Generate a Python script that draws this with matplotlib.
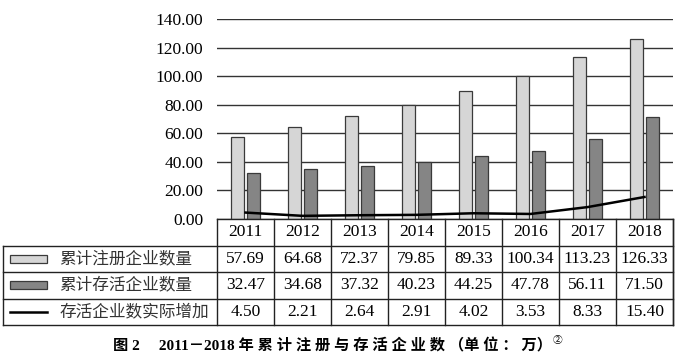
import numpy as np
import matplotlib.pyplot as plt

years = ['2011', '2012', '2013', '2014', '2015', '2016', '2017', '2018']
registered = [57.69, 64.68, 72.37, 79.85, 89.33, 100.34, 113.23, 126.33]
surviving = [32.47, 34.68, 37.32, 40.23, 44.25, 47.78, 56.11, 71.50]
increase = [4.50, 2.21, 2.64, 2.91, 4.02, 3.53, 8.33, 15.40]
series_names = ['累计注册企业数量', '累计存活企业数量', '存活企业数实际增加']
yticks = [0, 20, 40, 60, 80, 100, 120, 140]
caption = '图 2\u3000 2011－2018 年 ' + ' '.join('累计注册与存活企业数') + ' （单 位 ： 万）'

W, H = 677, 362
fig = plt.figure(figsize=(W / 100, H / 100), dpi=100)

serif = ['Liberation Serif', 'Noto Sans CJK SC']
cjk = ['Noto Sans CJK SC', 'Liberation Serif']

light = '#d6d6d6'
dark = '#858585'
edge = '#3a3a3a'

# plot area in pixels
x0, x1 = 217, 673
y_top, y_bot = 19, 219
ax = fig.add_axes([x0 / W, 1 - y_bot / H, (x1 - x0) / W, (y_bot - y_top) / H])

x = np.arange(len(years))
bw = 0.23
ax.bar(x - 0.14, registered, bw, color=light, edgecolor=edge, linewidth=0.9, zorder=3)
ax.bar(x + 0.14, surviving, bw, color=dark, edgecolor=edge, linewidth=0.9, zorder=3)
ax.plot(x, increase, color='black', linewidth=1.8, zorder=4)

ax.set_xlim(-0.5, len(years) - 0.5)
ax.set_ylim(0, 140)
ax.set_yticks(yticks)
ax.set_yticklabels([f'{v:.2f}' for v in yticks], family=serif, fontsize=12.5)
ax.set_xticks([])
ax.tick_params(axis='y', length=0, pad=10)
ax.yaxis.grid(True, color='#333333', linewidth=1.0, zorder=0)
for s in ax.spines.values():
    s.set_visible(False)
ax.set_axisbelow(True)

# data table below the plot
t_left, t_bot = 3, 325
cw = (x1 - x0) / len(years)
tax = fig.add_axes([t_left / W, 1 - t_bot / H, (x1 - t_left) / W, (t_bot - y_bot) / H])
left_edge = -0.5 - (x0 - t_left) / cw
tax.set_xlim(left_edge, len(years) - 0.5)
tax.set_ylim(0, 4)
tax.axis('off')

lc = '#222222'
lw = 1.0
# horizontal lines
tax.plot([-0.5, len(years) - 0.5], [4, 4], color=lc, lw=lw, clip_on=False)
for yy in [3, 2, 1, 0]:
    tax.plot([left_edge, len(years) - 0.5], [yy, yy], color=lc, lw=lw, clip_on=False)
# vertical lines
for i in range(len(years) + 1):
    tax.plot([i - 0.5, i - 0.5], [0, 4], color=lc, lw=lw, clip_on=False)
tax.plot([left_edge, left_edge], [0, 3], color=lc, lw=lw, clip_on=False)
tax.plot([len(years) - 0.5] * 2, [0, 4], color=lc, lw=lw, clip_on=False)

for i, yr in enumerate(years):
    tax.text(i, 3.5, yr, ha='center', va='center', family=serif, fontsize=12.5)

rows = [registered, surviving, increase]
for r, vals in enumerate(rows):
    yc = 2.5 - r
    for i, v in enumerate(vals):
        tax.text(i, yc, f'{v:.2f}', ha='center', va='center', family=serif, fontsize=12.5)

# legend keys in the first column
sw_l = left_edge + 7 / cw
sw_r = left_edge + 44 / cw
tax.add_patch(plt.Rectangle((sw_l, 2.35), sw_r - sw_l, 0.3, facecolor=light,
                            edgecolor=edge, linewidth=0.9))
tax.add_patch(plt.Rectangle((sw_l, 1.35), sw_r - sw_l, 0.3, facecolor=dark,
                            edgecolor=edge, linewidth=0.9))
tax.plot([sw_l, sw_r], [0.5, 0.5], color='black', lw=1.8)
for r, name in enumerate(series_names):
    tax.text(left_edge + 56 / cw, 2.5 - r, name, ha='left', va='center',
             family=cjk, fontsize=12, color='#333333')

cap = fig.text(113 / W, 1 - 346 / H, caption, ha='left', va='center', family=serif,
               fontsize=11, fontweight='bold')
fig.canvas.draw()
bb = cap.get_window_extent()
fig.text((bb.x1 + 1) / W, 1 - 340 / H, '②', ha='left', va='center', family=cjk, fontsize=7)

fig.savefig('out.png', dpi=100)
